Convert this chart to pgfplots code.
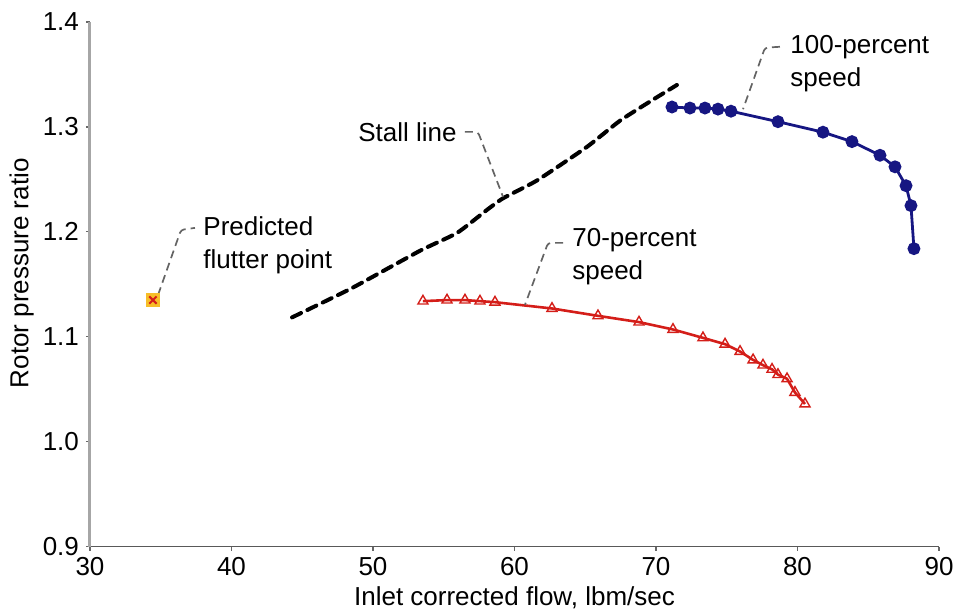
\documentclass[border=0pt]{standalone}
\usepackage{pgfplots}
\pgfplotsset{compat=1.18}
\usepackage{fontspec}
\setmainfont{Liberation Sans}
\definecolor{navy}{RGB}{22,22,130}
\definecolor{redl}{RGB}{212,30,25}
\definecolor{flutfill}{RGB}{247,190,40}
\definecolor{leader}{RGB}{100,100,100}
\begin{document}
\begin{tikzpicture}
\path[use as bounding box] (-45pt,-33.15pt) rectangle (433pt,273.35pt);
\begin{axis}[
  at={(0,0)}, anchor=south west,
  scale only axis, width=424.5pt, height=262.35pt,
  xmin=30, xmax=90, ymin=0.9, ymax=1.4,
  axis lines=left,
  axis line style={-},
  x axis line style={draw=black!65, line width=0.7pt},
  y axis line style={draw=black!35, line width=1.5pt},
  xtick={30,40,...,90}, ytick={0.9,1.0,...,1.4},
  tick align=outside, major tick length=2pt,
  tick style={black!60, line width=0.6pt},
  /pgf/number format/assume math mode=true,
  yticklabel style={/pgf/number format/.cd, fixed, fixed zerofill, precision=1},
  ticklabel style={font=\fontsize{13}{15}\selectfont},
  xlabel={Inlet corrected flow, lbm/sec},
  ylabel={Rotor pressure ratio},
  label style={font=\fontsize{13}{15}\selectfont},
  xlabel style={at={(axis description cs:0.5,-0.098)}, anchor=center},
  ylabel style={at={(axis description cs:-0.0805,0.521)}, anchor=center},
  clip=false,
]
% Stall line
\addplot[black, line width=2pt, dash pattern=on 5pt off 3.5pt, line cap=round, smooth, tension=0.3] coordinates {
(44.28,1.1185) (48.59,1.147) (53.32,1.182) (55.94,1.199) (58.06,1.221) (59.19,1.232)
(61.59,1.249) (65.12,1.281) (67.46,1.306) (69.79,1.326) (71.48,1.340)
};
% 100-percent speed
\addplot[navy, line width=1.4pt, mark=*, mark size=2.5pt, mark options={solid, fill=navy}] coordinates {
(71.13,1.319) (72.40,1.318) (73.46,1.318) (74.38,1.317) (75.30,1.315) (78.62,1.305)
(81.80,1.295) (83.85,1.286) (85.83,1.273) (86.89,1.262) (87.67,1.244) (88.02,1.225) (88.23,1.184)
};
% 70-percent speed
\addplot[redl, line width=1.3pt, mark=triangle, mark size=2.9pt, mark options={solid, line width=0.7pt}] coordinates {
(53.53,1.134) (55.23,1.135) (56.50,1.135) (57.56,1.134) (58.62,1.133) (62.65,1.127)
(65.90,1.120) (68.80,1.114) (71.20,1.107) (73.32,1.099) (74.88,1.093) (75.94,1.086)
(76.86,1.078) (77.56,1.073) (78.20,1.069) (78.62,1.064) (79.26,1.060) (79.82,1.047) (80.53,1.036)
};
% Predicted flutter point
\addplot[only marks, mark=square*, mark size=3.2pt, mark options={draw=flutfill, fill=flutfill}] coordinates {(34.45,1.135)};
\addplot[only marks, mark=x, mark size=2.6pt, mark options={draw=redl, line width=1pt}] coordinates {(34.45,1.135)};
% Leader lines
\tikzset{lead/.style={leader, line width=0.85pt, dash pattern=on 4pt off 2.5pt, rounded corners=1.5pt}}
\draw[lead] (axis cs:34.81,1.1399) -- (axis cs:36.43,1.2019) -- (axis cs:37.42,1.2038);
\draw[lead] (axis cs:56.50,1.2953) -- (axis cs:57.42,1.2953) -- (axis cs:59.19,1.2334);
\draw[lead] (axis cs:63.43,1.1895) -- (axis cs:62.37,1.1895) -- (axis cs:60.74,1.1305);
\draw[lead] (axis cs:78.76,1.3764) -- (axis cs:77.70,1.3755) -- (axis cs:76.15,1.3169);
% Labels
\node[anchor=west, inner sep=0pt, align=left, font=\fontsize{13}{16.5}\selectfont] at (axis cs:37.99,1.1872) {Predicted\\flutter point};
\node[anchor=east, inner sep=0pt, font=\fontsize{13}{16.5}\selectfont] at (axis cs:55.94,1.2953) {Stall line};
\node[anchor=west, inner sep=0pt, align=left, font=\fontsize{13}{16.5}\selectfont] at (axis cs:64.06,1.1762) {70-percent\\speed};
\node[anchor=west, inner sep=0pt, align=left, font=\fontsize{13}{16.5}\selectfont] at (axis cs:79.47,1.3602) {100-percent\\speed};
\end{axis}
\end{tikzpicture}
\end{document}
